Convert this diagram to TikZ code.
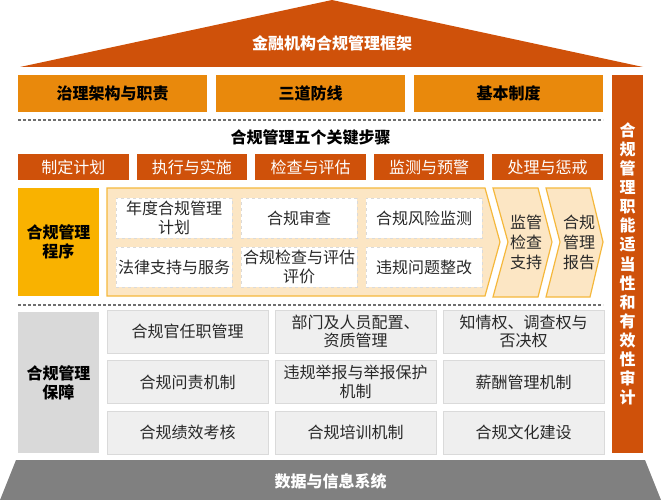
\documentclass[tikz,border=0pt]{standalone}
\usepackage{fontspec}
\setmainfont{Noto Sans CJK SC}
\definecolor{roof}{RGB}{207,81,10}
\definecolor{pillar}{RGB}{233,137,12}
\definecolor{gold}{RGB}{249,178,0}
\definecolor{peach}{RGB}{252,230,196}
\definecolor{peachline}{RGB}{245,184,60}
\definecolor{cellgray}{RGB}{239,239,239}
\definecolor{cellline}{RGB}{218,218,218}
\definecolor{sidegray}{RGB}{217,217,217}
\definecolor{basegray}{RGB}{128,128,128}
\definecolor{txt}{RGB}{40,40,40}
\definecolor{dashgray}{RGB}{110,110,110}
\tikzset{
  base/.style={rectangle, inner sep=0pt, outer sep=0pt, align=center, font=\fontsize{16}{18.5}\selectfont},
  topbox/.style={base, fill=pillar, text=black, font=\fontsize{16}{18}\selectfont\bfseries, minimum width=189pt, minimum height=37pt},
  stepbox/.style={base, fill=roof, text=white, minimum width=110.6pt, minimum height=26pt},
  whitecell/.style={base, fill=white, draw=cellline, dashed, line width=0.8pt, text=txt, minimum width=116pt, minimum height=40pt},
  graycell/.style={base, fill=cellgray, draw=cellline, line width=0.8pt, text=txt, minimum width=161pt, minimum height=43pt},
  sidebox/.style={base, text=black, font=\fontsize{16}{19}\selectfont\bfseries, minimum width=81pt},
  chev/.style={fill=peach, draw=peachline, line width=1.2pt, line join=miter},
  sepline/.style={draw=dashgray, line width=1.2pt, dash pattern=on 3pt off 2pt},
  plain/.style={inner sep=0pt, outer sep=0pt, align=center}
}
\begin{document}
\begin{tikzpicture}[x=1pt, y=-1pt]
\useasboundingbox (0,0) rectangle (661,500);
% roof
\fill[roof] (20,67) -- (332,0) -- (643,67) -- cycle;
\node[plain, text=white, font=\fontsize{16}{18}\selectfont\bfseries] (roofT) at (332,43) {金融机构合规管理框架};
% top pillars
\node[topbox] (t1) at (112.5,93.5) {治理架构与职责};
\node[topbox] (t2) at (310.5,93.5) {三道防线};
\node[topbox] (t3) at (508.5,93.5) {基本制度};
% right bar
\node[base, fill=roof, text=white, minimum width=31pt, minimum height=378pt, font=\fontsize{16}{19.1}\selectfont\bfseries] (rbar) at (627.5,264)
  {合\\规\\管\\理\\职\\能\\适\\当\\性\\和\\有\\效\\性\\审\\计};
% dashed separators
\coordinate (d1a) at (18,120); \coordinate (d1b) at (603,120);
\draw[sepline] (d1a) -- (d1b);
\coordinate (d2a) at (18,305); \coordinate (d2b) at (603,305);
\draw[sepline] (d2a) -- (d2b);
% title
\node[plain, text=black, font=\fontsize{16}{18}\selectfont\bfseries] (title) at (310.5,137) {合规管理五个关键步骤};
% steps
\node[stepbox] (s1) at (73.3,167) {制定计划};
\node[stepbox] (s2) at (191.9,167) {执行与实施};
\node[stepbox] (s3) at (310.5,167) {检查与评估};
\node[stepbox] (s4) at (429.1,167) {监测与预警};
\node[stepbox] (s5) at (547.7,167) {处理与惩戒};
% process section
\node[sidebox, fill=gold, minimum height=108pt] (proc) at (58.5,242) {合规管理\\程序};
\path[chev] (107,188) -- (485,188) -- (500,242) -- (485,296) -- (107,296) -- cycle;
\node[whitecell] (w1) at (174,218) {年度合规管理\\计划};
\node[whitecell] (w2) at (299,218) {合规审查};
\node[whitecell] (w3) at (424,218) {合规风险监测};
\node[whitecell] (w4) at (174,267) {法律支持与服务};
\node[whitecell] (w5) at (299,267) {合规检查与评估\\评价};
\node[whitecell] (w6) at (424,267) {违规问题整改};
\path[chev] (493,188) -- (538,188) -- (552,242) -- (538,297) -- (493,297) -- (508,242) -- cycle;
\path[chev] (546,188) -- (590,188) -- (603,242) -- (590,297) -- (546,297) -- (560,242) -- cycle;
\node[plain, text=txt, font=\fontsize{16}{20}\selectfont] (c1) at (526,242) {监管\\检查\\支持};
\node[plain, text=txt, font=\fontsize{16}{20}\selectfont] (c2) at (579,242) {合规\\管理\\报告};
% guarantee section
\node[sidebox, fill=sidegray, minimum height=141pt] (guar) at (58.5,382.5) {合规管理\\保障};
\node[graycell] (g11) at (187.5,331.5) {合规官任职管理};
\node[graycell] (g12) at (355.5,331.5) {部门及人员配置、\\资质管理};
\node[graycell] (g13) at (523.5,331.5) {知情权、调查权与\\否决权};
\node[graycell] (g21) at (187.5,382) {合规问责机制};
\node[graycell] (g22) at (355.5,382) {违规举报与举报保护\\机制};
\node[graycell] (g23) at (523.5,382) {薪酬管理机制};
\node[graycell] (g31) at (187.5,432.5) {合规绩效考核};
\node[graycell] (g32) at (355.5,432.5) {合规培训机制};
\node[graycell] (g33) at (523.5,432.5) {合规文化建设};
% base
\fill[basegray] (16,460) -- (645,460) -- (661,500) -- (0,500) -- cycle;
\node[plain, text=white, font=\fontsize{16}{18}\selectfont\bfseries] (baseT) at (330.5,481) {数据与信息系统};
\end{tikzpicture}
\end{document}
